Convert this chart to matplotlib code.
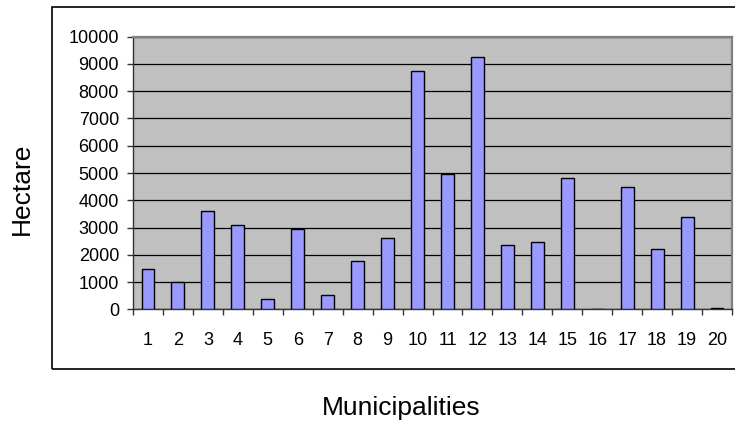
import numpy as np
import matplotlib.pyplot as plt
from matplotlib.patches import Rectangle

plt.rcParams['font.family'] = ['Liberation Sans', 'DejaVu Sans']

municipalities = list(range(1, 21))
hectare = [1470, 1000, 3590, 3100, 370, 2960, 530, 1760, 2630, 8740,
           4960, 9250, 2370, 2480, 4820, 0, 4490, 2210, 3390, 60]

fig = plt.figure(figsize=(7.35, 4.25), dpi=100)

# outer chart frame (runs off the right edge)
fig.patches.append(Rectangle((52/735, 1-369/425), 700/735, 362/425,
                             transform=fig.transFigure, fill=False,
                             edgecolor='black', linewidth=1.2, zorder=0))

ax = fig.add_axes([133/735, 1-309.3/425, (732-133)/735, (309.3-36.7)/425])
ax.set_facecolor('#C0C0C0')

x = np.array(municipalities)
ax.bar(x, hectare, width=0.43, color='#9999FF', edgecolor='black',
       linewidth=1.0, zorder=3)

ax.set_xlim(0.5, 20.5)
ax.set_ylim(0, 10000)
ax.set_yticks(np.arange(0, 10001, 1000))
ax.set_xticks(x)
ax.set_xticks(np.arange(0.5, 21, 1), minor=True)
ax.tick_params(axis='x', which='major', length=0, pad=16.5, labelsize=13)
ax.tick_params(axis='x', which='minor', length=4, width=1, color='#333333')
ax.tick_params(axis='y', length=4, width=1, pad=6, labelsize=13, color='#333333')

ax.grid(axis='y', color='black', linewidth=0.9, zorder=1)
ax.set_axisbelow(True)

for side in ('top', 'right'):
    ax.spines[side].set_color('#808080')
    ax.spines[side].set_linewidth(1.6)
for side in ('left', 'bottom'):
    ax.spines[side].set_color('#333333')
    ax.spines[side].set_linewidth(1.0)

fig.text(22/735, 1-189/425, 'Hectare', rotation=90, fontsize=19,
         ha='center', va='center')
fig.text(401/735, 1-408/425, 'Municipalities', fontsize=19,
         ha='center', va='center')

fig.savefig('out.png', dpi=100)
